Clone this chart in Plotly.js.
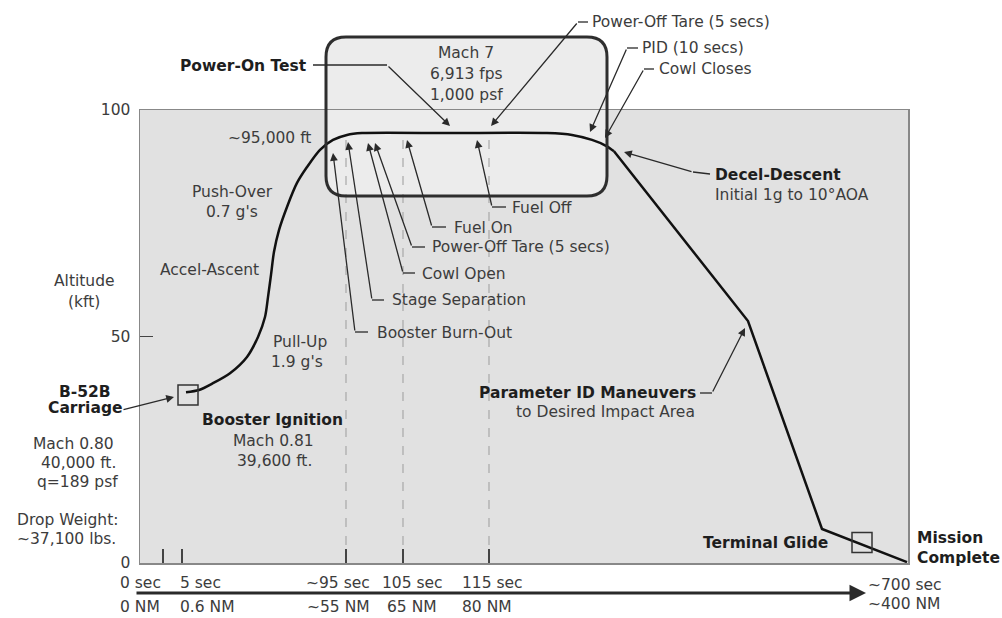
<!DOCTYPE html>
<html><head><meta charset="utf-8">
<script src="https://cdn.plot.ly/plotly-3.0.1.min.js"></script>
<style>html,body{margin:0;padding:0;background:#fff}#chart{width:1002px;height:618px}</style>
</head><body><div id="chart"></div>
<script>
// ---- data (x = schematic horizontal position along the mission, alt in kft) ----
const ascentX   = [186,199,213,230,247,258,265,268,271,274,279,287,297,307,320,333,347,362,450,547,572,592,606,614];
const ascentAlt = [37.7,38.2,39.7,41.9,45.5,49.9,54.3,58.7,63.6,68.7,73.5,78.6,83.9,87.4,91.2,93.4,94.5,94.9,94.9,94.9,94.5,93.4,92.1,90.9];
const descentX   = [614,748,822,907];
const descentAlt = [90.9,53.4,7.5,0.2];
const milestoneX = [163,182,346,403,489];
const dashX      = [346,403,489];
const dashTop    = [94.5,94.9,94.9];
const markerX    = [188,862];
const markerAlt  = [37.1,4.5];
const yTicks     = [0,50,100];
const timeLabels = ['0 sec','5 sec','~95 sec','105 sec','115 sec','~700 sec'];
const distLabels = ['0 NM','0.6 NM','~55 NM','65 NM','80 NM','~400 NM'];

// ---- geometry helpers (figure pixels -> paper) ----
const L=140,R=908,T=110,B=563,W=R-L,H=B-T;
const px=x=>(x-L)/W, py=y=>(B-y)/H;
const pt=(x,y)=>px(x).toFixed(5)+','+py(y).toFixed(5);
const F='DejaVu Sans, Verdana, sans-serif';
const FS=15.5;

function lab(t,x,y,anchor,bold){
  return {text:bold?'<b>'+t+'</b>':t,x:px(x),y:py(y),xref:'paper',yref:'paper',
    xanchor:anchor||'center',yanchor:'middle',showarrow:false,
    font:{family:F,size:FS,color:bold?'#1e1e1e':'#3c3c3c'}};
}
function arrow(hx,hy,tx,ty,w,s){
  return {text:'',x:px(hx),y:py(hy),xref:'paper',yref:'paper',ax:tx-hx,ay:ty-hy,
    showarrow:true,arrowhead:2,arrowsize:s||1.2,arrowwidth:w||1.3,arrowcolor:'#2a2a2a',standoff:0};
}
function poly(pts,w){
  return {type:'path',xref:'paper',yref:'paper',layer:'above',
    path:'M'+pts.map(p=>pt(p[0],p[1])).join(' L'),line:{color:'#2a2a2a',width:w||1.3}};
}

// rounded box
const bx0=326,bx1=607,by0=37,by1=196,r=20;
const boxPath='M'+pt(bx0+r,by0)+' L'+pt(bx1-r,by0)+' Q'+pt(bx1,by0)+' '+pt(bx1,by0+r)+
  ' L'+pt(bx1,by1-r)+' Q'+pt(bx1,by1)+' '+pt(bx1-r,by1)+' L'+pt(bx0+r,by1)+
  ' Q'+pt(bx0,by1)+' '+pt(bx0,by1-r)+' L'+pt(bx0,by0+r)+' Q'+pt(bx0,by0)+' '+pt(bx0+r,by0)+' Z';

const shapes=[
  {type:'rect',xref:'paper',yref:'paper',x0:0,x1:1,y0:0,y1:1,layer:'below',fillcolor:'#e1e1e1',line:{width:0}},
  {type:'path',xref:'paper',yref:'paper',path:boxPath,layer:'below',fillcolor:'#ececec',line:{width:0}},
  {type:'path',xref:'paper',yref:'paper',path:boxPath,layer:'above',line:{color:'#2e2e2e',width:3}},
];

// leaders [tail polyline, head]
const leaders=[
  [[[313,65],[387,65]],[450,126]],
  [[[588,22],[578,22]],[491,126]],
  [[[638,48],[627,48]],[590,132]],
  [[[654,69],[644,69]],[605,138]],
  [[[710,174],[693,172]],[624,152]],
  [[[506,207],[492,207]],[477,140]],
  [[[446,227],[432,227]],[407,140]],
  [[[425,247],[412,247]],[375,143]],
  [[[415,273],[403,273]],[368,143]],
  [[[384,300],[372,300]],[348,142]],
  [[[368,332],[355,332]],[333,153]],
  [[[700,393],[712,393]],[745,328]],
];
const annotations=[];
leaders.forEach(l=>{
  shapes.push(poly(l[0]));
  const tail=l[0][l[0].length-1];
  annotations.push(arrow(l[1][0],l[1][1],tail[0],tail[1]));
});
annotations.push(arrow(174,397,122,410));
annotations.push(arrow(866,593,135,593,3,1.1));

const texts=[
  ['Power-On Test',309,66,'right',1],
  ['Mach 7',466,53,'center'],
  ['6,913 fps',466,74,'center'],
  ['1,000 psf',466,95,'center'],
  ['Power-Off Tare (5 secs)',590,22,'left'],
  ['PID (10 secs)',640,48,'left'],
  ['Cowl Closes',657,69,'left'],
  ['~95,000 ft',313,138,'right'],
  ['Push-Over',232,192,'center'],
  ["0.7 g's",232,212,'center'],
  ['Accel-Ascent',209,270,'center'],
  ['Altitude',84,281,'center'],
  ['(kft)',84,302,'center'],
  ['Pull-Up',300,342,'center'],
  ["1.9 g's",297,362,'center'],
  ['B-52B',85,392,'center',1],
  ['Carriage',85,408,'center',1],
  ['Mach 0.80',116,444,'right'],
  ['40,000 ft.',118,463,'right'],
  ['q=189 psf',120,482,'right'],
  ['Drop Weight:',120,520,'right'],
  ['~37,100 lbs.',118,539,'right'],
  ['Booster Ignition',272,420,'center',1],
  ['Mach 0.81',273,441,'center'],
  ['39,600 ft.',274,461,'center'],
  ['Fuel Off',510,208,'left'],
  ['Fuel On',452,228,'left'],
  ['Power-Off Tare (5 secs)',430,247,'left'],
  ['Cowl Open',420,274,'left'],
  ['Stage Separation',390,300,'left'],
  ['Booster Burn-Out',375,333,'left'],
  ['Decel-Descent',713,175,'left',1],
  ['Initial 1g to 10°AOA',713,195,'left'],
  ['Parameter ID Maneuvers',698,393,'right',1],
  ['to Desired Impact Area',697,412,'right'],
  ['Terminal Glide',830,543,'right',1],
  ['Mission',915,538,'left',1],
  ['Complete',915,558,'left',1],
];
texts.forEach(t=>annotations.push(lab(t[0],t[1],t[2],t[3],t[4])));

const labPos=[[118,'left'],[178,'left'],[338,'center'],[412,'center'],[460,'left'],[866,'left']];
timeLabels.forEach((t,i)=>annotations.push(lab(t,labPos[i][0],i===5?585:583,labPos[i][1])));
distLabels.forEach((t,i)=>annotations.push(lab(t,labPos[i][0],i===5?604:607,labPos[i][1])));

// dashed verticals
const dX=[],dY=[];
dashX.forEach((x,i)=>{dX.push(x,x,null);dY.push(0,dashTop[i],null);});

const traces=[
  {x:dX,y:dY,mode:'lines',line:{color:'#a8a8a8',width:1.2,dash:'dash'},hoverinfo:'skip'},
  {x:ascentX,y:ascentAlt,mode:'lines',line:{color:'#111',width:2.5,shape:'spline',smoothing:0.8},hoverinfo:'skip'},
  {x:descentX,y:descentAlt,mode:'lines',line:{color:'#111',width:2.5},hoverinfo:'skip'},
  {x:markerX,y:markerAlt,mode:'markers',marker:{symbol:'square-open',size:20,color:'#333',line:{width:1.5}},hoverinfo:'skip'},
];

const layout={
  width:1002,height:618,margin:{l:L,r:1002-R,t:T,b:618-B},
  paper_bgcolor:'#ffffff',plot_bgcolor:'rgba(0,0,0,0)',showlegend:false,
  xaxis:{range:[L,R],showgrid:false,zeroline:false,tickvals:milestoneX,ticks:'inside',ticklen:14,
    tickwidth:1.5,tickcolor:'#444',showticklabels:false,showline:true,mirror:true,linecolor:'#888',linewidth:1.5},
  yaxis:{range:[0,100],showgrid:false,zeroline:false,tickvals:yTicks,ticktext:yTicks.map(String),ticks:'inside',
    ticklen:13,tickwidth:1.5,tickcolor:'#444',showline:true,mirror:true,linecolor:'#888',linewidth:1.5,
    ticklabelstandoff:5,tickfont:{family:F,size:FS,color:'#3c3c3c'}},
  shapes:shapes,annotations:annotations
};
Plotly.newPlot('chart',traces,layout,{staticPlot:true,displayModeBar:false});
</script></body></html>
